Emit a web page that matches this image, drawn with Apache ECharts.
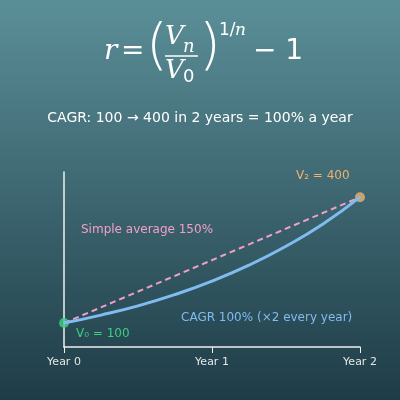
<!DOCTYPE html>
<html><head><meta charset="utf-8">
<script src="https://cdn.jsdelivr.net/npm/echarts@6/dist/echarts.min.js"></script>
<style>html,body{margin:0;padding:0}#c{width:400px;height:400px}</style>
</head><body><div id="c"></div>
<script>
const xTicks = ['Year 0','Year 1','Year 2'];
const cagrX = [0,0.25,0.5,0.75,1,1.25,1.5,1.75,2];
const cagrY = [100,119,141,168,200,238,283,336,400];
const simpleX = [0,2];
const simpleY = [100,400];

const chart = echarts.init(document.getElementById('c'));
const F = '"DejaVu Serif", serif';
const S = '"DejaVu Sans", sans-serif';
chart.setOption({
  backgroundColor: {type:'linear',x:0,y:0,x2:0,y2:1,colorStops:[{offset:0,color:'#5b8f98'},{offset:1,color:'#1e3c47'}]},
  animation:false,
  grid:{left:64,right:40,top:172,bottom:53},
  xAxis:{type:'value',min:0,max:2,interval:1,
    axisLine:{lineStyle:{color:'#f0f0f0',width:1.5}},
    axisTick:{show:true,length:6,lineStyle:{color:'#f0f0f0'}},
    splitLine:{show:false},
    axisLabel:{color:'#e6e6e6',fontSize:11,fontFamily:S,margin:10,formatter:v=>xTicks[v]}},
  yAxis:{type:'value',min:43,max:460,
    axisLine:{show:true,lineStyle:{color:'#f0f0f0',width:1.5}},
    axisTick:{show:false},axisLabel:{show:false},splitLine:{show:false}},
  series:[
    {type:'line',data:simpleX.map((x,i)=>[x,simpleY[i]]),symbol:'none',
     lineStyle:{color:'#f0a0c8',width:2,type:[6,4]}},
    {type:'line',smooth:true,data:cagrX.map((x,i)=>[x,cagrY[i]]),symbol:'none',
     lineStyle:{color:'#80bcf0',width:3}},
    {type:'scatter',data:[[0,100]],symbolSize:10,itemStyle:{color:'#3ccf80'}},
    {type:'scatter',data:[[2,400]],symbolSize:10,itemStyle:{color:'#f0b070'}}
  ],
  graphic:[
    {type:'text',left:104,top:38,style:{text:'r',font:'italic 28px '+F,fill:'#fff'}},
    {type:'text',left:121,top:38,style:{text:'=',font:'28px '+S,fill:'#fff'}},
    {type:'text',left:146,top:20,style:{text:'(',font:'300 56px '+S,fill:'#fff'}},
    {type:'text',left:165,top:24,style:{text:'V',font:'italic 26px '+F,fill:'#fff'}},
    {type:'text',left:183,top:38,style:{text:'n',font:'italic 18px '+F,fill:'#fff'}},
    {type:'shape',shape:{x1:165,y1:56,x2:198,y2:56},type:'line',style:{stroke:'#fff',lineWidth:1.5}},
    {type:'text',left:165,top:58,style:{text:'V',font:'italic 26px '+F,fill:'#fff'}},
    {type:'text',left:183,top:68,style:{text:'0',font:'18px '+S,fill:'#fff'}},
    {type:'text',left:199,top:20,style:{text:')',font:'300 56px '+S,fill:'#fff'}},
    {type:'text',left:219,top:22,style:{text:'1/',font:'17px '+S,fill:'#fff'}},
    {type:'text',left:235,top:22,style:{text:'n',font:'italic 17px '+F,fill:'#fff'}},
    {type:'text',left:253,top:38,style:{text:'− 1',font:'28px '+S,fill:'#fff'}},
    {type:'text',left:'center',top:111,style:{text:'CAGR: 100 → 400 in 2 years = 100% a year',font:'14px '+S,fill:'#fff'}},
    {type:'text',left:81,top:224,style:{text:'Simple average 150%',font:'12px '+S,fill:'#f0a0c8'}},
    {type:'text',left:181,top:312,style:{text:'CAGR 100% (×2 every year)',font:'12px '+S,fill:'#80bcf0'}},
    {type:'text',left:76,top:328,style:{text:'V₀ = 100',font:'12px '+S,fill:'#3ccf80'}},
    {type:'text',left:296,top:170,style:{text:'V₂ = 400',font:'12px '+S,fill:'#f0b070'}}
  ]
});
</script></body></html>
